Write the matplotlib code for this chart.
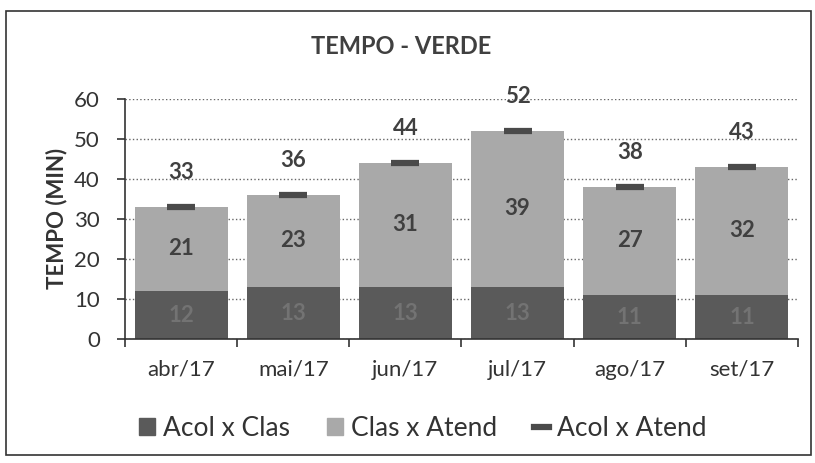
import matplotlib.pyplot as plt
from matplotlib.patches import Rectangle
from matplotlib.lines import Line2D
from matplotlib.patches import Patch
import numpy as np

plt.rcParams['font.family'] = ['Lato', 'DejaVu Sans']

meses = ["abr/17", "mai/17", "jun/17", "jul/17", "ago/17", "set/17"]
acol_clas = [12, 13, 13, 13, 11, 11]
clas_atend = [21, 23, 31, 39, 27, 32]
acol_atend = [33, 36, 44, 52, 38, 43]

cor_escura = "#5a5a5a"
cor_clara = "#a9a9a9"
cor_marca = "#4a4a4a"

fig = plt.figure(figsize=(8.15, 4.63), dpi=100)
fig.patches.append(Rectangle((6 / 815, 8 / 463), 805 / 815, 444 / 463, transform=fig.transFigure,
                             fill=False, edgecolor="#333333", linewidth=1.2))
ax = fig.add_axes([125 / 815, 1 - 339 / 463, 673 / 815, 240 / 463])

x = np.arange(len(meses))
ax.bar(x, acol_clas, width=0.83, color=cor_escura, zorder=2)
ax.bar(x, clas_atend, bottom=acol_clas, width=0.83, color=cor_clara, zorder=2)
ax.plot(x, acol_atend, linestyle="none", marker="_", markersize=20, markeredgewidth=4.5,
        color=cor_marca, zorder=3)

for i in range(len(meses)):
    ax.text(x[i], acol_clas[i] / 2, str(acol_clas[i]), ha="center", va="center",
            fontsize=16, fontweight="bold", color="#737373", zorder=4)
    ax.text(x[i], acol_clas[i] + clas_atend[i] / 2, str(clas_atend[i]), ha="center", va="center",
            fontsize=16, fontweight="bold", color="#404040", zorder=4)
    ax.text(x[i], acol_atend[i] + 8.5, str(acol_atend[i]), ha="center", va="center",
            fontsize=16, fontweight="bold", color="#404040", zorder=4)

ax.set_xlim(-0.5, len(meses) - 0.5)
ax.set_ylim(0, 60)
ax.set_yticks(range(0, 61, 10))
ax.set_xticks(x)
ax.set_xticklabels(meses)
ax.set_xticks(np.arange(-0.5, len(meses), 1), minor=True)
ax.tick_params(axis="x", which="major", length=0, labelsize=16, pad=15, colors="#333333")
ax.tick_params(axis="x", which="minor", length=6, width=1.2, color="#333333")
ax.tick_params(axis="y", length=6, width=1.2, labelsize=16, colors="#333333", pad=12)
ax.grid(axis="y", linestyle=":", color="#666666", linewidth=1, zorder=0)
for s in ["top", "right"]:
    ax.spines[s].set_visible(False)
ax.spines["left"].set_linewidth(1.2)
ax.spines["bottom"].set_linewidth(1.2)
ax.spines["left"].set_color("#333333")
ax.spines["bottom"].set_color("#333333")

fig.text(57 / 815, 1 - 218 / 463, "TEMPO (MIN)", rotation=90, ha="center", va="center",
         fontsize=16, fontweight="bold", color="#333333")
fig.text(401 / 815, 1 - 47 / 463, "TEMPO - VERDE", ha="center", va="center",
         fontsize=17, fontweight="bold", color="#404040")

handles = [Patch(color=cor_escura), Patch(color=cor_clara),
           Line2D([0], [0], color=cor_marca, linewidth=4.5)]
fig.legend(handles, ["Acol x Clas", "Clas x Atend", "Acol x Atend"], loc="center",
           bbox_to_anchor=(423 / 815, 1 - 428 / 463), ncol=3, frameon=False, fontsize=19,
           handlelength=0.6, handleheight=0.6, handletextpad=0.3, columnspacing=1.4,
           labelcolor="#333333")

fig.savefig("out.png", dpi=100)
